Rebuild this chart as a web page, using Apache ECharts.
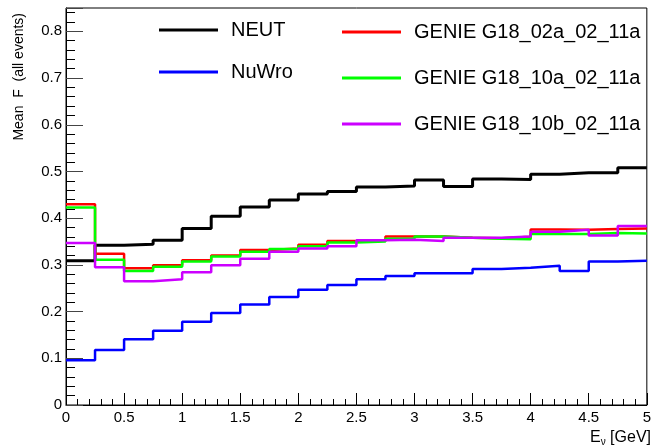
<!DOCTYPE html>
<html>
<head>
<meta charset="utf-8">
<script src="https://cdn.jsdelivr.net/npm/echarts@6/dist/echarts.min.js"></script>
<style>html,body{margin:0;padding:0;background:#fff}#c{width:654px;height:448px}</style>
</head>
<body>
<div id="c"></div>
<script>
var binEdges = [0,0.25,0.5,0.75,1,1.25,1.5,1.75,2,2.25,2.5,2.75,3,3.25,3.5,3.75,4,4.25,4.5,4.75,5];
var neut  = [0.309,0.342,0.344,0.353,0.378,0.404,0.424,0.439,0.452,0.457,0.467,0.469,0.482,0.468,0.484,0.483,0.494,0.497,0.497,0.508];
var nuwro = [0.096,0.118,0.141,0.159,0.178,0.197,0.215,0.231,0.247,0.257,0.269,0.276,0.282,0.282,0.291,0.294,0.298,0.287,0.307,0.309];
var g02a  = [0.430,0.324,0.293,0.299,0.310,0.320,0.332,0.335,0.343,0.351,0.353,0.361,0.361,0.358,0.357,0.360,0.376,0.375,0.377,0.378];
var g10a  = [0.423,0.311,0.287,0.296,0.307,0.318,0.328,0.334,0.340,0.348,0.350,0.356,0.361,0.358,0.356,0.355,0.366,0.366,0.368,0.367];
var g10b  = [0.347,0.295,0.265,0.269,0.284,0.299,0.313,0.328,0.335,0.340,0.353,0.354,0.351,0.358,0.358,0.361,0.371,0.375,0.363,0.383];
var xTitle = 'E';
var xTitleSub = 'ν';
var xTitleUnit = ' [GeV]';
var yTitle = 'Mean  F  (all events)';

function hist(vals){
  var d = [];
  for (var i = 0; i < vals.length; i++) d.push([binEdges[i], vals[i]]);
  d.push([binEdges[vals.length], vals[vals.length-1]]);
  return d;
}
var FONT = '"Liberation Sans", Arial, Helvetica, sans-serif';
function s(name, vals, color, w){
  return {name:name, type:'line', step:'end', symbol:'none', color:color,
    lineStyle:{width:w, color:color}, data:hist(vals), animation:false};
}
var chart = echarts.init(document.getElementById('c'), null, {renderer:'canvas'});
chart.setOption({
  animation:false,
  grid:{left:66, right:3, top:8, bottom:43, show:true, borderColor:'#000', borderWidth:1, backgroundColor:'transparent'},
  xAxis:{type:'value', min:0, max:5, interval:0.5,
    axisLine:{show:true, lineStyle:{color:'#000', width:1}},
    axisTick:{show:true, inside:true, length:12, lineStyle:{color:'#000'}},
    minorTick:{show:true, splitNumber:5, length:6, lineStyle:{color:'#000'}},
    splitLine:{show:false},
    axisLabel:{color:'#000', fontSize:15, fontFamily:FONT, margin:5}
  },
  yAxis:{type:'value', min:0, max:0.85, interval:0.1,
    axisLine:{show:true, lineStyle:{color:'#000', width:1}},
    axisTick:{show:true, inside:true, length:17, lineStyle:{color:'#444'}},
    minorTick:{show:true, splitNumber:5, length:9, lineStyle:{color:'#000'}},
    splitLine:{show:false},
    axisLabel:{color:'#000', fontSize:15, fontFamily:FONT, margin:4, showMaxLabel:false}
  },
  legend:[
    {data:['NEUT','NuWro'], orient:'vertical', left:159, top:20, padding:0, icon:'rect', itemWidth:59, itemHeight:3, itemGap:22,
     textStyle:{fontSize:20, fontFamily:FONT, color:'#000', lineHeight:20, padding:[0,0,0,8]}},
    {data:['GENIE G18_02a_02_11a','GENIE G18_10a_02_11a','GENIE G18_10b_02_11a'], orient:'vertical', left:342, top:22, padding:0, icon:'rect', itemWidth:59, itemHeight:3, itemGap:26,
     textStyle:{fontSize:20, fontFamily:FONT, color:'#000', lineHeight:20, padding:[0,0,0,8]}}
  ],
  graphic:[
    {type:'text', x:19, y:13, rotation:Math.PI/2,
     style:{text:yTitle, align:'right', verticalAlign:'middle', fontSize:14, fontFamily:FONT, fill:'#000'}},
    {type:'text', x:651, y:438,
     style:{text:'{a|'+xTitle+'}{s|'+xTitleSub+'}{a|'+xTitleUnit+'}', align:'right', verticalAlign:'middle',
       rich:{a:{fontSize:16, fontFamily:FONT, fill:'#000', color:'#000'}, s:{fontSize:10, fontFamily:FONT, color:'#000', padding:[8,0,0,0]}}}}
  ],
  series:[
    s('NEUT', neut, '#000000', 3),
    s('NuWro', nuwro, '#0000ff', 2.5),
    s('GENIE G18_02a_02_11a', g02a, '#ff0000', 2.5),
    s('GENIE G18_10a_02_11a', g10a, '#00ff00', 2.5),
    s('GENIE G18_10b_02_11a', g10b, '#cc00ff', 2.5)
  ]
});
</script>
</body>
</html>
